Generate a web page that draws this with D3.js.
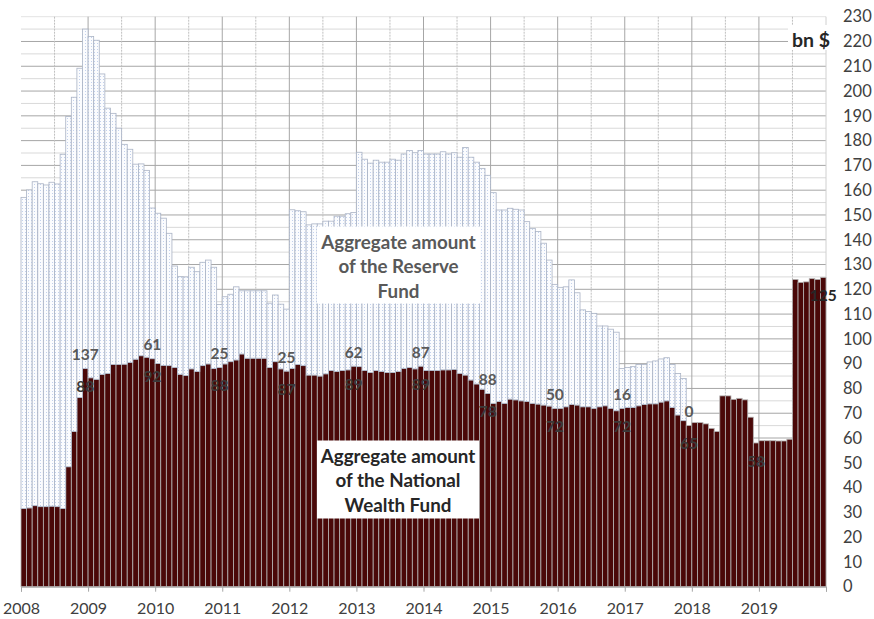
<!DOCTYPE html>
<html><head><meta charset="utf-8">
<script src="https://cdn.jsdelivr.net/npm/d3@7"></script>
<style>
html,body{margin:0;padding:0;background:#fff;}
svg{display:block;font-family:Lato,"Open Sans",sans-serif;}
</style></head>
<body><svg id="chart" width="874" height="619"></svg>
<script>
// ---- data (bn $, end of month, Jan 2008 .. Dec 2019) ----
const years = [2008,2009,2010,2011,2012,2013,2014,2015,2016,2017,2018,2019];
const monthNames = ["Jan","Feb","Mar","Apr","May","Jun","Jul","Aug","Sep","Oct","Nov","Dec"];
const categories = years.flatMap(y => monthNames.map(m => y + "-" + m));

const nationalWealthFund = [
  31.6,31.8,32.7,32.3,32.3,32.5,32.3,31.6,48.4,62.6,76.3,88.0,
  84.3,83.7,85.6,86.1,89.7,89.7,89.8,90.5,91.8,93.2,92.6,92.0,
  90.1,89.3,89.2,88.5,85.7,85.2,87.9,86.8,89.2,89.9,88.0,88.5,
  89.9,90.8,91.5,93.9,92.2,92.2,92.2,92.2,88.5,90.8,87.9,87.0,
  88.1,89.7,89.2,85.4,85.4,85.0,85.9,87.2,86.8,87.2,87.5,89.0,
  88.8,87.2,86.4,87.2,86.8,86.4,86.4,86.8,88.1,88.5,87.9,89.0,
  87.2,87.2,87.2,87.5,87.5,87.7,86.1,85.4,83.4,81.8,79.7,78.0,
  74.0,74.7,74.0,75.7,75.4,75.0,74.7,74.0,73.7,73.3,72.9,72.0,
  72.0,72.6,73.5,73.3,72.6,72.6,72.0,72.6,73.0,72.0,71.0,72.0,
  72.3,72.3,73.0,73.5,73.8,73.8,74.5,75.0,72.3,69.3,67.0,65.0,
  66.2,66.2,65.7,63.9,62.6,77.0,77.0,75.6,76.0,75.4,68.4,58.0,
  58.9,58.9,58.9,58.8,58.8,59.5,124.0,122.8,123.0,124.3,124.0,124.8
];
const reserveFund = [
  125.5,128.3,130.7,130.3,129.8,130.7,130.2,142.9,141.3,134.9,132.9,137.0,
  137.7,136.8,121.3,107.0,101.3,95.3,88.7,86.0,78.7,77.4,75.4,60.8,
  60.6,59.4,53.4,40.9,39.4,39.8,41.0,40.3,41.7,41.9,40.9,25.4,
  27.1,27.2,29.5,25.5,27.2,27.2,27.2,27.2,25.9,26.9,26.1,25.0,
  64.0,62.0,62.1,60.6,61.0,61.4,61.6,60.3,62.7,62.3,63.0,62.0,
  86.5,85.3,84.5,84.9,84.5,84.9,86.1,85.3,86.5,87.5,87.2,87.0,
  87.4,87.4,87.4,88.0,87.1,87.4,87.2,91.8,89.9,89.5,89.1,88.0,
  85.0,77.3,78.0,77.0,76.9,77.0,72.6,70.6,69.6,65.3,58.9,50.0,
  48.8,48.4,50.3,45.3,39.1,38.4,38.3,32.6,32.2,31.9,31.7,16.0,
  16.2,16.5,16.7,16.2,16.9,17.3,17.4,17.4,17.4,16.7,17.0,0,
  0,0,0,0,0,0,0,0,0,0,0,0,
  0,0,0,0,0,0,0,0,0,0,0,0
];
// data labels at the start of each year (value at end of previous December)
const labelCategories = years.map(y => y + "-Dec");
const reserveLabels = ["137","61","25","25","62","87","88","50","16","0",null,null];
const nwfLabels = ["88","92","88","87","89","89","78","72","72","65","58","125"];
const yTicks = d3.range(0, 231, 10);
const yMinor = d3.range(5, 230, 10);
const xTickYears = [2008,2009,2010,2011,2012,2013,2014,2015,2016,2017,2018,2019,2020];

// ---- layout ----
const svg = d3.select("#chart");
const L = 21, R = 826, T = 16.7, B = 586.7;
const x = d3.scaleBand().domain(categories).range([L, R]).padding(0);
const y = d3.scaleLinear().domain([0, 230]).range([B, T]);
const xYear = d3.scaleLinear().domain([2008, 2020]).range([L, R]);

const defs = svg.append("defs");
const pat = defs.append("pattern").attr("id","dots").attr("patternUnits","userSpaceOnUse")
  .attr("width",3).attr("height",3);
pat.append("rect").attr("width",3).attr("height",3).attr("fill","#fbfcfe");
pat.append("rect").attr("x",1).attr("y",1).attr("width",1).attr("height",1).attr("fill","#c3d1ec");

// gridlines
const g = svg.append("g");
g.selectAll(".minor").data(yMinor).join("line")
  .attr("x1",L).attr("x2",R).attr("y1",d=>y(d)).attr("y2",d=>y(d))
  .attr("stroke","#d9d9d9").attr("stroke-width",1);
g.selectAll(".major").data(yTicks.filter(d=>d>0)).join("line")
  .attr("x1",L).attr("x2",R).attr("y1",d=>y(d)).attr("y2",d=>y(d))
  .attr("stroke",d=>d===230?"#e3e3e3":"#a6a6a6").attr("stroke-width",1);
g.selectAll(".vmid").data(years).join("line")
  .attr("x1",d=>xYear(d+0.5)).attr("x2",d=>xYear(d+0.5)).attr("y1",T).attr("y2",B)
  .attr("stroke","#bfbfbf").attr("stroke-width",1).attr("stroke-dasharray","2,1");
g.selectAll(".vyear").data(xTickYears.slice(1)).join("line")
  .attr("x1",d=>xYear(d)).attr("x2",d=>xYear(d)).attr("y1",T).attr("y2",B)
  .attr("stroke",d=>d===2020?"#d0d0d0":"#a6a6a6").attr("stroke-width",1);

// bars
const rows = categories.map((c,i)=>({cat:c, nwf:nationalWealthFund[i], reserve:reserveFund[i]}));
const stacked = d3.stack().keys(["nwf","reserve"])(rows);
const fills = {nwf:"#4a0808", reserve:"url(#dots)"};
const strokes = {nwf:"#b5b5b5", reserve:"#aab3c5"};
svg.append("g").selectAll("g").data(stacked).join("g")
  .each(function(s){
    d3.select(this).selectAll("rect").data(s.filter(d=>d[1]-d[0]>0)).join("rect")
      .attr("x", d=>x(d.data.cat)).attr("width", x.bandwidth())
      .attr("y", d=>y(d[1])).attr("height", d=>y(d[0])-y(d[1]))
      .attr("fill", fills[s.key]).attr("stroke", strokes[s.key]).attr("stroke-width",0.8);
  });

// x axis
const xAxis = d3.axisBottom(xYear).tickValues(xTickYears).tickSize(5)
  .tickFormat(d => d===2020 ? "" : String(d));
const xa = svg.append("g").attr("transform",`translate(0,${B})`).call(xAxis);
xa.select(".domain").attr("stroke","#a6a6a6");
xa.selectAll(".tick line").attr("stroke","#a6a6a6");
xa.selectAll(".tick text").attr("fill","#404040").attr("font-size","16px")
  .attr("font-family","Lato, sans-serif").attr("y",15.5);

// y axis (right)
const yAxis = d3.axisRight(y).tickValues(yTicks).tickSize(0).tickPadding(0);
const ya = svg.append("g").attr("transform",`translate(843,0)`).call(yAxis);
ya.select(".domain").remove();
ya.selectAll(".tick text").attr("fill","#404040").attr("font-size","16.5px")
  .attr("font-family","Lato, sans-serif").attr("text-anchor","start");

// unit label
svg.append("rect").attr("x",788).attr("y",25).attr("width",40).attr("height",25).attr("fill","#fff");
svg.append("text").attr("x",792).attr("y",46.5).attr("font-size","19.5px").attr("font-weight","bold")
  .attr("fill","#262626").text("bn $");

// data labels
labelCategories.forEach((c,k)=>{
  const i = categories.indexOf(c);
  const cx = x(c) + x.bandwidth()/2;
  const top = y(nationalWealthFund[i]);
  if (reserveLabels[k] !== null) {
    svg.append("text").attr("x",cx).attr("y",top-14).attr("dy","0.36em")
      .attr("text-anchor","middle").attr("font-size","15.5px").attr("font-weight","bold")
      .attr("fill","#595959").text(reserveLabels[k]);
  }
  svg.append("text").attr("x",cx).attr("y",top+18).attr("dy","0.36em")
    .attr("text-anchor","middle").attr("font-size","15.5px").attr("font-weight","bold")
    .attr("fill", k===11 ? "#262626" : "#3a3a3a").text(nwfLabels[k]);
});

// series text boxes
function box(x0,y0,w,h,lines,color){
  svg.append("rect").attr("x",x0).attr("y",y0).attr("width",w).attr("height",h).attr("fill","#fff");
  lines.forEach((t,j)=>{
    svg.append("text").attr("x",x0+w/2).attr("y",y0+16+24.2*j).attr("dy","0.36em")
      .attr("text-anchor","middle").attr("font-size","18.8px").attr("font-weight","bold")
      .attr("fill",color).text(t);
  });
}
box(317,226.5,163,77,["Aggregate amount","of the Reserve","Fund"],"#595959");
box(317,440.5,162,78,["Aggregate amount","of the National","Wealth Fund"],"#262626");
</script></body></html>
